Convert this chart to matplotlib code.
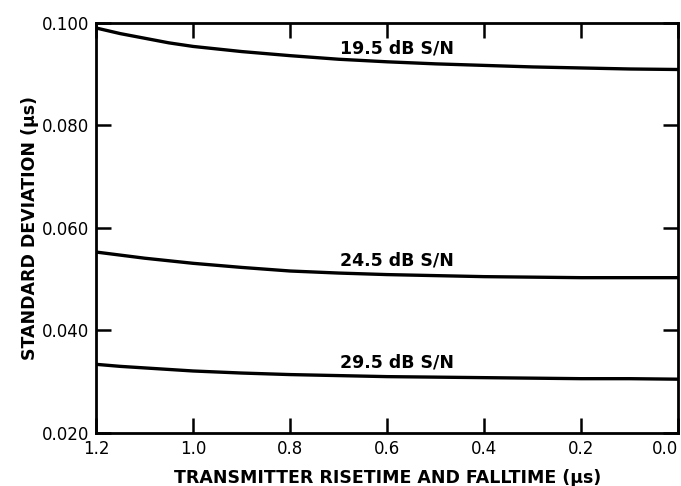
import numpy as np
import matplotlib
matplotlib.use('Agg')
import matplotlib.pyplot as plt

# risetime / falltime in microseconds
RISETIME = [1.2, 1.15, 1.1, 1.05, 1.0, 0.9, 0.8, 0.7, 0.6, 0.5, 0.4,
            0.3, 0.2, 0.1, 0.0]

# standard deviation (microseconds) for each S/N
SD_195 = [0.0990, 0.0979, 0.0970, 0.0961, 0.0954, 0.0944, 0.0936, 0.0929,
          0.0924, 0.0920, 0.0917, 0.0914, 0.0912, 0.0910, 0.0909]
SD_245 = [0.0553, 0.0547, 0.0541, 0.0536, 0.0531, 0.0523, 0.0516, 0.0512,
          0.0509, 0.0507, 0.0505, 0.0504, 0.0503, 0.0503, 0.0503]
SD_295 = [0.0334, 0.0330, 0.0327, 0.0324, 0.0321, 0.0317, 0.0314, 0.0312,
          0.0310, 0.0309, 0.0308, 0.0307, 0.0306, 0.0306, 0.0305]

LABELS = ['19.5 dB S/N', '24.5 dB S/N', '29.5 dB S/N']
LABEL_X = 0.58

XTICKS = [1.2, 1.0, 0.8, 0.6, 0.4, 0.2, 0.0]
YTICKS = [0.020, 0.040, 0.060, 0.080, 0.100]

plt.rcParams['font.family'] = ['DejaVu Sans']

fig = plt.figure(figsize=(6.81, 4.86), dpi=100)
ax = fig.add_axes([0.141, 0.109, 0.855, 0.844])

for sd, lab in zip([SD_195, SD_245, SD_295], LABELS):
    ax.plot(RISETIME, sd, '-', color='black', lw=2.4, solid_capstyle='butt',
            solid_joinstyle='round')
    y_at = np.interp(LABEL_X, RISETIME[::-1], sd[::-1])
    ax.text(LABEL_X, y_at + 0.0010, lab, ha='center', va='bottom',
            fontsize=12.5, fontweight='bold', color='black')

ax.set_xlim(1.2, 0.0)
ax.set_ylim(0.020, 0.100)
ax.set_xticks(XTICKS)
ax.set_xticklabels(['%.1f' % v for v in XTICKS])
ax.set_yticks(YTICKS)
ax.set_yticklabels(['%.3f' % v for v in YTICKS])

ax.tick_params(axis='both', direction='in', length=11, width=1.8,
               labelsize=12, pad=5, top=True, right=True)
# keep the last x label inside the figure
ax.get_xticklabels()[-1].set_horizontalalignment('right')
for sp in ax.spines.values():
    sp.set_linewidth(2)

ax.set_xlabel('TRANSMITTER RISETIME AND FALLTIME (\u03bcs)', fontsize=12.5,
              fontweight='bold', labelpad=8)
ax.set_ylabel('STANDARD DEVIATION (\u03bcs)', fontsize=12.5,
              fontweight='bold', labelpad=2)

fig.savefig('out.png', dpi=100)
